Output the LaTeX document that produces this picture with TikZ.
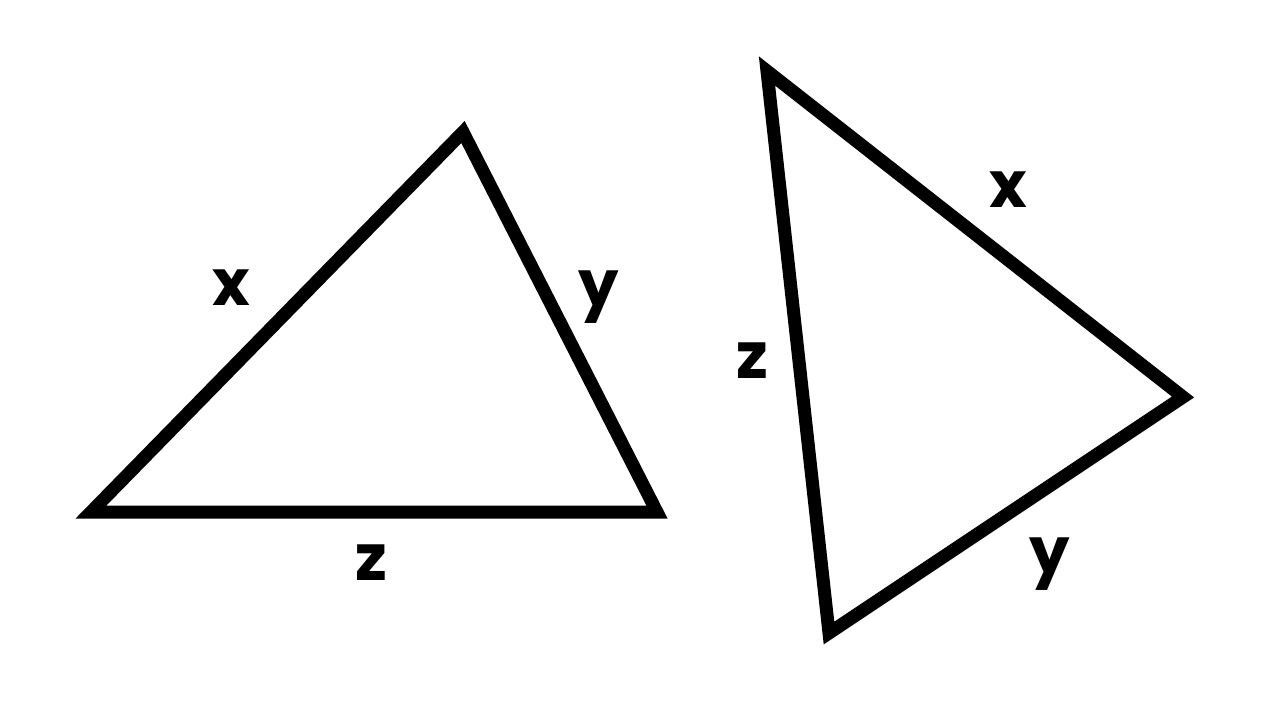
\documentclass[tikz,border=0pt]{standalone}
\usepackage{fontspec}
\setmainfont{Poppins}
\usetikzlibrary{positioning}

\begin{document}
\begin{tikzpicture}[
    x=0.5pt, y=-0.5pt,
    tri/.style={draw=black, line width=6.5pt, line join=miter, miter limit=10},
    lbl/.style={font=\fontsize{32}{32}\selectfont\bfseries, anchor=base, inner sep=0pt}
]
\useasboundingbox (0,0) rectangle (1280,720);

% left triangle
\coordinate (la) at (91,512);
\coordinate (lb) at (463,132);
\coordinate (lc) at (657,512);
\draw[tri] (la) -- (lb) -- (lc) -- cycle;

\node[lbl] (lx) at (231,305) {x};
\node[lbl] (ly) at (599,306) {y};
\node[lbl] (lz) at (371,580) {z};

% right triangle
\coordinate (ra) at (767,71);
\coordinate (rb) at (1183,397);
\coordinate (rc) at (829,633);
\draw[tri] (ra) -- (rb) -- (rc) -- cycle;

\node[lbl] (rx) at (1008,207) {x};
\node[lbl] (rz) at (752,378) {z};
\node[lbl] (ry) at (1050,573) {y};

\end{tikzpicture}
\end{document}
